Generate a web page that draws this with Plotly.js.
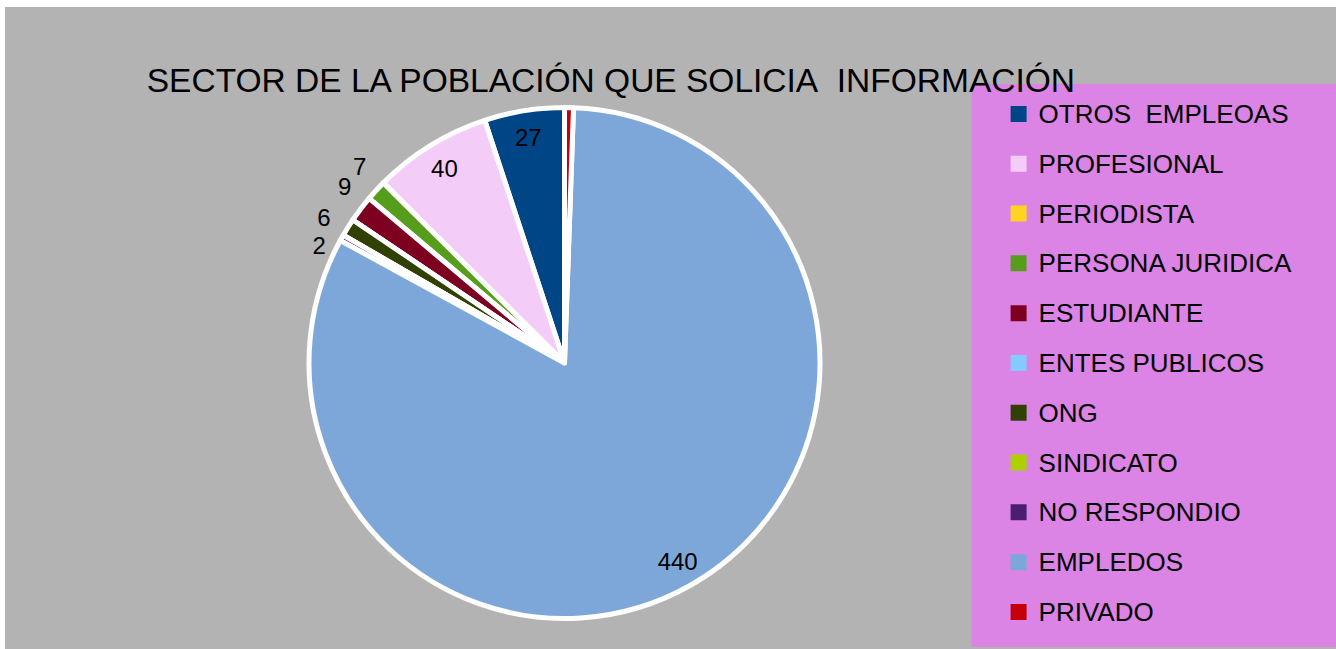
<!DOCTYPE html>
<html>
<head>
<meta charset="utf-8">
<script src="https://cdn.plot.ly/plotly-3.0.1.min.js"></script>
<style>
html, body { margin: 0; padding: 0; background: #ffffff; width: 1336px; height: 649px; overflow: hidden; }
#chart { position: absolute; left: 5px; top: 7px; width: 1331px; height: 642px; }
</style>
</head>
<body>
<div id="chart"></div>
<script>
// Data (legend / data order; slices run counter-clockwise from 12 o'clock)
const categories = ["OTROS\u00a0 EMPLEOAS", "PROFESIONAL", "PERIODISTA", "PERSONA JURIDICA", "ESTUDIANTE",
  "ENTES PUBLICOS", "ONG", "SINDICATO", "NO RESPONDIO", "EMPLEDOS", "PRIVADO"];
const values = [27, 40, 0, 7, 9, 0, 6, 0, 2, 440, 3];
const sliceColors = ["#004586", "#f3ccf7", "#ffd320", "#579d1c", "#7e0021",
  "#83caff", "#314004", "#aecf00", "#4b1f6f", "#7da7d9", "#c5000b"];
const chartTitle = "SECTOR DE LA POBLACIÓN QUE SOLICIA\u00a0 INFORMACIÓN";

// ---- styling / geometry (not data) ----
const W = 1331, H = 642;
const CX = 559.5, CY = 356;          // pie centre in div pixels
const R_MAIN = 255.5;
const FONT = "Liberation Sans, Arial, sans-serif";
function dom(r) {
  return { x: [(CX - r) / W, (CX + r) / W], y: [1 - (CY + r) / H, 1 - (CY - r) / H] };
}
const total = values.reduce((a, b) => a + b, 0);
const rot = -values[0] / total * 360;   // first slice starts at 12 o'clock
const transparent = values.map(() => "rgba(0,0,0,0)");
const txt = { family: FONT, size: 24, color: "#000000" };

// which slices get a value label, and where
function only(idxList, pos) { return values.map((v, i) => idxList.includes(i) ? pos : "none"); }

const legendLabels = categories.map(c => '<span style="font-size:26px;baseline-shift:5px">' + c + '</span>');

const mainTrace = {
  type: "pie",
  labels: legendLabels,
  values: values,
  sort: false,
  direction: "counterclockwise",
  rotation: rot,
  marker: { colors: sliceColors, line: { color: "#ffffff", width: 5 } },
  textinfo: "none",
  textposition: "none",
  domain: dom(R_MAIN),
  hoverinfo: "label+value",
  showlegend: true
};

function labelTrace(r, hole, pos, template) {
  return {
    type: "pie",
    labels: categories,
    values: values,
    sort: false,
    direction: "counterclockwise",
    rotation: rot,
    hole: hole,
    marker: { colors: transparent, line: { width: 0 } },
    texttemplate: template,
    textposition: pos,
    insidetextorientation: "horizontal",
    textfont: txt, insidetextfont: txt, outsidetextfont: txt,
    domain: dom(r),
    hoverinfo: "skip",
    showlegend: false
  };
}

const traces = [
  mainTrace,
  labelTrace(R_MAIN, 0.79, only([0, 1, 9], "inside"), "%{value}"),
  labelTrace(249, 0, only([3], "outside"), "%{value}<br>\u00a0"),
  labelTrace(249, 0, only([4], "outside"), "%{value}<br>\u00a0"),
  labelTrace(268, 0, only([6], "outside"), "%{value}"),
  labelTrace(257, 0, only([8], "outside"), "\u00a0<br>%{value}")
];

const layout = {
  width: W,
  height: H,
  margin: { l: 0, r: 0, t: 0, b: 0, pad: 0 },
  paper_bgcolor: "#b3b3b3",
  plot_bgcolor: "#b3b3b3",
  font: { family: FONT, color: "#000000" },
  title: {
    text: chartTitle,
    font: { family: FONT, size: 33.5, color: "#000000" },
    xref: "paper", x: 0.1065, xanchor: "left",
    yref: "container", y: 0.8851, yanchor: "middle"
  },
  shapes: [{
    type: "rect", xref: "paper", yref: "paper",
    x0: 0.7262, x1: 1.0, y0: 0.003, y1: 0.880,
    fillcolor: "#db84e6", line: { width: 0 }, layer: "above"
  }],
  legend: {
    x: 0.7465, xanchor: "left",
    y: 0.880, yanchor: "top",
    bgcolor: "rgba(0,0,0,0)",
    borderwidth: 0,
    font: { family: FONT, size: 36, color: "#000000" },
    traceorder: "normal"
  },
  showlegend: true
};

Plotly.newPlot("chart", traces, layout, { displayModeBar: false, staticPlot: true }).then(() => {
  // enlarge the legend swatches to ~16px squares (stroke in the swatch's own colour)
  document.querySelectorAll("#chart .legend .legendpoints path").forEach(p => {
    const f = p.style.fill || p.getAttribute("fill");
    if (f) { p.style.stroke = f; p.style.strokeWidth = "4px"; }
  });
});
</script>
</body>
</html>
